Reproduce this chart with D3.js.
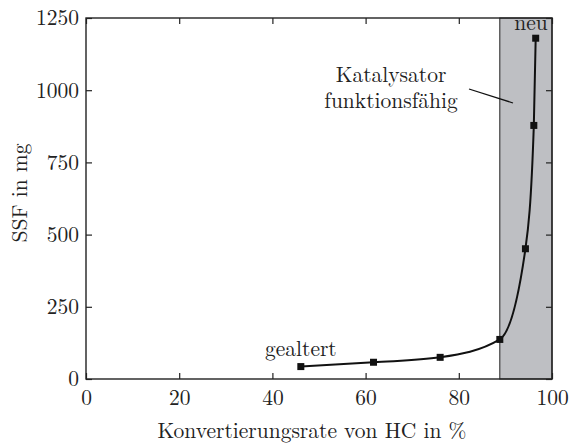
<!DOCTYPE html>
<html>
<head>
<meta charset="utf-8">
<script src="https://cdn.jsdelivr.net/npm/d3@7.9.0/dist/d3.min.js"></script>
<style>
  body { margin: 0; background: #fff; }
</style>
</head>
<body>
<div id="chart"></div>
<script>
// conversion rate of HC (%) vs soot mass (mg)
const conversion = [46.1, 61.7, 76.0, 88.8, 94.3, 96.1, 96.5];
const ssf = [43, 58, 75, 137, 451, 878, 1180];
const xTicks = [0, 20, 40, 60, 80, 100];
const yTicks = [0, 250, 500, 750, 1000, 1250];
const activeRange = [88.8, 100];

const width = 573, height = 443;
const margin = { top: 18, right: 21, bottom: 64, left: 86 };
const font = '"Latin Modern Roman"';
const fs = 21.5;

const svg = d3.select("#chart").append("svg")
  .attr("width", width).attr("height", height);

const x = d3.scaleLinear().domain([0, 100]).range([margin.left, width - margin.right]);
const y = d3.scaleLinear().domain([0, 1250]).range([height - margin.bottom, margin.top]);

const txt = sel => sel.style("font-family", font).style("font-size", fs + "px").attr("fill", "#222");

/* shaded region */
svg.append("rect")
  .attr("x", x(activeRange[0]))
  .attr("y", y(1250))
  .attr("width", x(activeRange[1]) - x(activeRange[0]))
  .attr("height", y(0) - y(1250))
  .attr("fill", "#bebfc3")
  .attr("stroke", "#222")
  .attr("stroke-width", 1);

/* axes with inward ticks on all sides */
const axisStyle = g => {
  g.attr("font-family", null).attr("font-size", null);
  g.select(".domain").remove();
  g.selectAll("line").attr("stroke", "#222").attr("stroke-width", 1.2);
  g.selectAll("text").call(txt);
};

svg.append("g")
  .attr("transform", `translate(0,${y(0)})`)
  .call(d3.axisBottom(x).tickValues(xTicks).tickSize(-6).tickPadding(11).tickFormat(d3.format("d")))
  .call(axisStyle);

svg.append("g")
  .attr("transform", `translate(0,${y(1250)})`)
  .call(d3.axisTop(x).tickValues(xTicks).tickSize(-6).tickFormat(""))
  .call(axisStyle);

svg.append("g")
  .attr("transform", `translate(${x(0)},0)`)
  .call(d3.axisLeft(y).tickValues(yTicks).tickSize(-6).tickPadding(7).tickFormat(d3.format("d")))
  .call(axisStyle);

svg.append("g")
  .attr("transform", `translate(${x(100)},0)`)
  .call(d3.axisRight(y).tickValues(yTicks).tickSize(-6).tickFormat(""))
  .call(axisStyle);

/* frame */
svg.append("rect")
  .attr("x", x(0)).attr("y", y(1250))
  .attr("width", x(100) - x(0)).attr("height", y(0) - y(1250))
  .attr("fill", "none").attr("stroke", "#222").attr("stroke-width", 1.4);

/* curve */
const pts = conversion.map((c, i) => [c, ssf[i]]);
svg.append("path")
  .datum(pts)
  .attr("fill", "none")
  .attr("stroke", "#111")
  .attr("stroke-width", 2)
  .attr("d", d3.line().x(d => x(d[0])).y(d => y(d[1])).curve(d3.curveMonotoneX));

svg.append("g").selectAll("rect")
  .data(pts)
  .join("rect")
  .attr("x", d => x(d[0]) - 3.5)
  .attr("y", d => y(d[1]) - 3.5)
  .attr("width", 7).attr("height", 7)
  .attr("fill", "#111");

/* labels */
svg.append("text")
  .attr("x", 312).attr("y", 438)
  .attr("text-anchor", "middle").call(txt)
  .text("Konvertierungsrate von HC in %");

svg.append("text")
  .attr("transform", `translate(27,193) rotate(-90)`)
  .attr("text-anchor", "middle").call(txt)
  .text("SSF in mg");

svg.append("text")
  .attr("x", 531).attr("y", 30)
  .attr("text-anchor", "middle").call(txt)
  .text("neu");

svg.append("text")
  .attr("x", 265).attr("y", 356)
  .call(txt)
  .text("gealtert");

svg.append("text")
  .attr("x", 391).attr("y", 82)
  .attr("text-anchor", "middle").call(txt)
  .text("Katalysator");
svg.append("text")
  .attr("x", 391).attr("y", 108)
  .attr("text-anchor", "middle").call(txt)
  .text("funktionsfähig");

svg.append("line")
  .attr("x1", 469).attr("y1", 89)
  .attr("x2", 513).attr("y2", 103)
  .attr("stroke", "#111").attr("stroke-width", 1.3);
</script>
</body>
</html>
